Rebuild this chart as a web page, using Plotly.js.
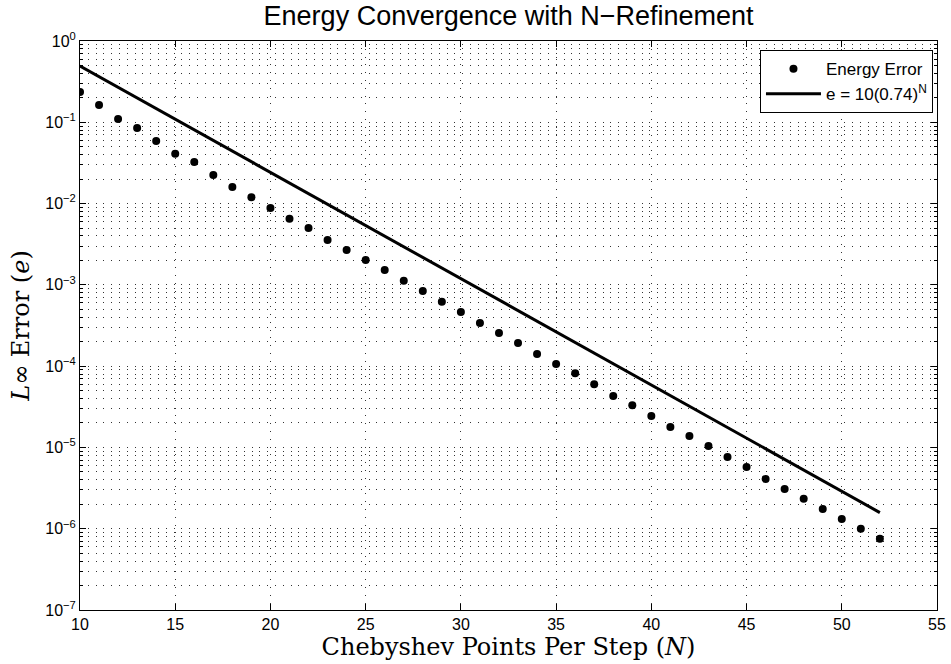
<!DOCTYPE html>
<html>
<head>
<meta charset="utf-8">
<script src="https://cdn.plot.ly/plotly-3.0.1.min.js"></script>
<style>html,body{margin:0;padding:0;background:#fff;}#chart{width:951px;height:664px;}</style>
</head>
<body>
<div id="chart"></div>
<script>
// Data
var pointsN = [10,11,12,13,14,15,16,17,18,19,20,21,22,23,24,25,26,27,28,29,30,31,32,33,34,35,36,37,38,39,40,41,42,43,44,45,46,47,48,49,50,51,52];
var energyError = [0.236,0.163,0.110,0.085,0.059,0.041,0.0325,0.0225,0.016,0.012,0.0088,0.0065,0.0050,0.00357,0.00269,0.00202,0.00152,0.00112,0.00084,0.00062,0.000464,0.00034,0.000256,0.000193,0.000141,0.000106,8.2e-5,6.0e-5,4.3e-5,3.3e-5,2.44e-5,1.79e-5,1.38e-5,1.04e-5,7.6e-6,5.75e-6,4.1e-6,3.09e-6,2.33e-6,1.75e-6,1.32e-6,1.0e-6,7.5e-7];
// fit line endpoints (e = 10(0.74)^N at N=10 and N=52)
var fitN = [10, 52];
var fitE = [0.492, 1.58e-6];
var yTickVals = [1e-7,1e-6,1e-5,1e-4,1e-3,1e-2,1e-1,1];
var yTickText = ['10<sup>−7</sup>','10<sup>−6</sup>','10<sup>−5</sup>','10<sup>−4</sup>','10<sup>−3</sup>','10<sup>−2</sup>','10<sup>−1</sup>','10<sup>0</sup>'];

var gridDash = '1px,6.8px';
var gridColor = '#333';

var traces = [
  {x: pointsN, y: energyError, mode: 'markers', type: 'scatter', name: 'Energy Error',
   marker: {color: '#000', size: 8}},
  {x: fitN, y: fitE, mode: 'lines', type: 'scatter', name: 'e = 10(0.74)<sup>N</sup>',
   line: {color: '#000', width: 3}}
];

var layout = {
  width: 951, height: 664,
  margin: {l: 80, r: 14, t: 41, b: 54},
  paper_bgcolor: '#fff', plot_bgcolor: '#fff',
  font: {family: 'Liberation Sans, Arial, sans-serif', color: '#000', size: 16},
  title: {text: 'Energy Convergence with N−Refinement', x: 0.5348, xanchor: 'center', y: 0.977, yanchor: 'middle',
          font: {family: 'Liberation Sans, Arial, sans-serif', size: 27, color: '#000'}},
  showlegend: true,
  legend: {x: 0.9953, xanchor: 'right', y: 0.984, yanchor: 'top', bgcolor: '#fff', bordercolor: '#000', borderwidth: 1,
           font: {size: 17, family: 'Liberation Sans, Arial, sans-serif'}, tracegroupgap: 0, itemwidth: 55},
  xaxis: {
    range: [10, 55], dtick: 5, tick0: 10,
    showline: true, linecolor: '#000', linewidth: 1, mirror: 'ticks',
    ticks: 'inside', ticklen: 6, tickcolor: '#000',
    showgrid: true, gridcolor: gridColor, griddash: gridDash, gridwidth: 1,
    zeroline: false,
    tickfont: {size: 16},
    title: {text: 'Chebyshev Points Per Step (<i>N</i>)', standoff: 4,
            font: {family: 'DejaVu Serif, serif', size: 24}}
  },
  yaxis: {
    type: 'log', range: [-7, 0],
    tickvals: yTickVals, ticktext: yTickText,
    showline: true, linecolor: '#000', linewidth: 1, mirror: 'ticks',
    ticks: 'inside', ticklen: 6, tickcolor: '#000',
    showgrid: true, gridcolor: gridColor, griddash: gridDash, gridwidth: 1,
    zeroline: false,
    tickfont: {size: 16},
    minor: {dtick: 'D1', ticks: 'inside', ticklen: 3, tickcolor: '#000', showgrid: true, gridcolor: gridColor, griddash: gridDash, gridwidth: 1},
    title: {text: '<i>L</i>∞ Error (<i>e</i>)', standoff: 8,
            font: {family: 'DejaVu Serif, serif', size: 24}}
  }
};

Plotly.newPlot('chart', traces, layout, {displayModeBar: false, staticPlot: true});
</script>
</body>
</html>
